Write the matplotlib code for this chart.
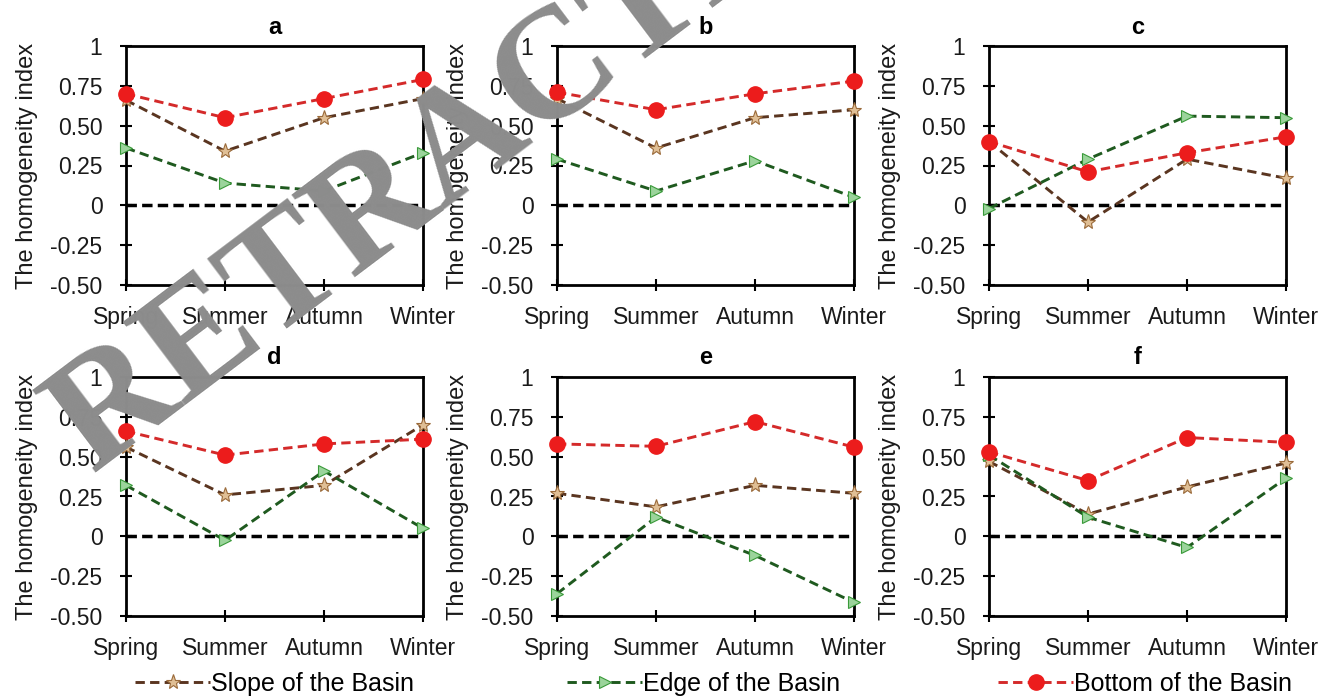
import numpy as np
import matplotlib
matplotlib.use("Agg")
import matplotlib.pyplot as plt
from matplotlib.lines import Line2D

plt.rcParams["font.family"] = ["Liberation Sans", "DejaVu Sans"]

seasons = ["Spring", "Summer", "Autumn", "Winter"]
panels = ["a", "b", "c", "d", "e", "f"]

# homogeneity index per panel, season order Spring..Winter
slope = {
    "a": [0.66, 0.34, 0.55, 0.67],
    "b": [0.67, 0.36, 0.55, 0.60],
    "c": [0.40, -0.105, 0.29, 0.17],
    "d": [0.56, 0.26, 0.32, 0.70],
    "e": [0.27, 0.185, 0.32, 0.27],
    "f": [0.47, 0.14, 0.31, 0.46],
}
edge = {
    "a": [0.36, 0.14, 0.09, 0.33],
    "b": [0.29, 0.09, 0.28, 0.05],
    "c": [-0.02, 0.29, 0.56, 0.55],
    "d": [0.32, -0.025, 0.41, 0.05],
    "e": [-0.36, 0.12, -0.12, -0.415],
    "f": [0.51, 0.12, -0.07, 0.365],
}
bottom = {
    "a": [0.70, 0.55, 0.67, 0.79],
    "b": [0.71, 0.60, 0.70, 0.78],
    "c": [0.40, 0.21, 0.33, 0.43],
    "d": [0.66, 0.51, 0.58, 0.61],
    "e": [0.58, 0.565, 0.72, 0.56],
    "f": [0.53, 0.35, 0.62, 0.59],
}

yticks = [-0.5, -0.25, 0, 0.25, 0.5, 0.75, 1]
ytick_labels = ["-0.50", "-0.25", "0", "0.25", "0.50", "0.75", "1"]

series = [
    ("Slope of the Basin", slope,
     dict(color="#5a3520", marker="*", markersize=11, markerfacecolor="#e0bf95",
          markeredgecolor="#9a6a3a", markeredgewidth=0.8)),
    ("Edge of the Basin", edge,
     dict(color="#1f5a1f", marker=">", markersize=9, markerfacecolor="#9bd49b",
          markeredgecolor="#3a9a3a", markeredgewidth=0.8)),
    ("Bottom of the Basin", bottom,
     dict(color="#d42a2a", marker="o", markersize=11, markerfacecolor="#ec1c1c",
          markeredgecolor="#ec1c1c")),
]

W, H = 1338, 699
fig = plt.figure(figsize=(W / 100, H / 100), dpi=100)

lefts = [126, 557, 989]
tops = [46, 377]
aw, ah = 297, 239
dash = (0, (3.2, 1.8))

x = np.arange(len(seasons))
for i, p in enumerate(panels):
    l = lefts[i % 3]
    t = tops[i // 3]
    ax = fig.add_axes([l / W, 1 - (t + ah) / H, aw / W, ah / H])
    ax.axhline(0, color="black", linestyle=(0, (3, 1.5)), linewidth=2.5, zorder=1)
    for name, d, st in series:
        ax.plot(x, d[p], linestyle=dash, linewidth=2.1, clip_on=False,
                zorder=3, **st)
    ax.set_xlim(0, 3)
    ax.set_ylim(-0.5, 1)
    ax.set_xticks(x)
    ax.set_xticklabels(seasons)
    ax.set_yticks(yticks)
    ax.set_yticklabels(ytick_labels)
    ax.tick_params(direction="inout", length=8, width=1.5, labelsize=16.5,
                   labelcolor="#1a1a1a")
    ax.tick_params(axis="x", pad=11)
    ax.tick_params(axis="y", pad=13)
    for s in ax.spines.values():
        s.set_linewidth(2)
    ax.set_ylabel("The homogeneity index", fontsize=17, color="#1a1a1a",
                  labelpad=9)
    ax.set_title(p, fontsize=17, fontweight="bold", pad=9)

# legends, one per series, spread along the bottom
leg_x = [135, 567, 998]
for (name, d, st), lx in zip(series, leg_x):
    h = Line2D([], [], linestyle=dash, linewidth=2.1, **st)
    fig.legend(handles=[h], labels=[name], loc="center left",
               bbox_to_anchor=(lx / W, 1 - 684 / H), frameon=False,
               fontsize=18, handlelength=3.0, handletextpad=0.05,
               borderpad=0, borderaxespad=0)

# retraction watermark
fig.text(489 / W, 1 - 174 / H, "RETRACTED", fontsize=114, fontweight="bold",
         family="Liberation Serif", color="#8c8c8c", rotation=37,
         rotation_mode="anchor", ha="center", va="baseline", zorder=10)

fig.savefig("out.png", dpi=100)
